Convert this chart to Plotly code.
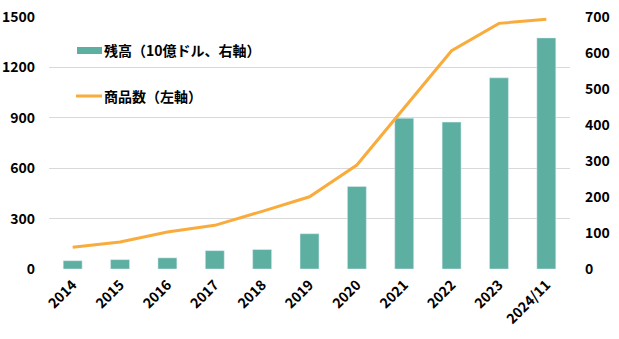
import plotly.graph_objects as go

categories = ["2014", "2015", "2016", "2017", "2018", "2019", "2020", "2021", "2022", "2023", "2024/11"]
balance = [23, 26, 31, 51, 54, 98, 229, 419, 408, 531, 642]          # 10億ドル, right axis
products = [129, 161, 220, 260, 343, 430, 619, 960, 1299, 1462, 1486]  # left axis
left_ticks = [0, 300, 600, 900, 1200, 1500]
right_ticks = [0, 100, 200, 300, 400, 500, 600, 700]

bar_color = "#5DAFA2"
line_color = "#F9AC3B"
font_family = "Noto Sans CJK JP"

fig = go.Figure()
fig.add_trace(go.Bar(x=categories, y=balance, marker_color=bar_color, width=0.4,
                     yaxis="y", name="残高（10億ドル、右軸）", showlegend=False))
fig.add_trace(go.Scatter(x=categories, y=products, mode="lines",
                         line=dict(color=line_color, width=3),
                         yaxis="y2", name="商品数（左軸）", showlegend=False))

tickfont = dict(family=font_family, size=14, color="#000000", weight="bold")

fig.update_layout(
    width=619, height=339,
    margin=dict(l=49, r=49, t=17, b=70, autoexpand=False),
    plot_bgcolor="white", paper_bgcolor="white",
    font=dict(family=font_family),
    xaxis=dict(type="category", range=[-0.5, 10.5], tickangle=-45, tickfont=tickfont,
               showgrid=False, showline=False, ticks="", ticklabelstandoff=4,
               automargin=False),
    yaxis=dict(side="right", range=[0, 700], tickvals=right_ticks, showgrid=False,
               zeroline=False, tickfont=tickfont, ticks="", ticklabelstandoff=14,
               automargin=False),
    yaxis2=dict(side="left", overlaying="y", range=[0, 1500], tickvals=left_ticks,
                showgrid=True, gridcolor="#D9D9D9", gridwidth=1, zeroline=False,
                tickfont=tickfont, ticks="", ticklabelstandoff=13, automargin=False),
    showlegend=False,
    bargap=0.6,
)

# manual legend
fig.add_shape(type="rect", xref="paper", yref="paper",
              x0=(77 - 49) / 521, x1=(102 - 49) / 521,
              y0=(269 - 54) / 252, y1=(269 - 47) / 252,
              fillcolor=bar_color, line_width=0)
fig.add_shape(type="line", xref="paper", yref="paper",
              x0=(76 - 49) / 521, x1=(102 - 49) / 521,
              y0=(269 - 96) / 252, y1=(269 - 96) / 252,
              line=dict(color=line_color, width=3))
legfont = dict(family=font_family, size=14, color="#000000", weight="bold")
fig.add_annotation(text="残高（10億ドル、右軸）", xref="paper", yref="paper",
                   x=(102 - 49) / 521, y=(269 - 50) / 252, xanchor="left", yanchor="middle",
                   showarrow=False, font=legfont)
fig.add_annotation(text="商品数（左軸）", xref="paper", yref="paper",
                   x=(102 - 49) / 521, y=(269 - 96) / 252, xanchor="left", yanchor="middle",
                   showarrow=False, font=legfont)

fig.write_html("out.html")
